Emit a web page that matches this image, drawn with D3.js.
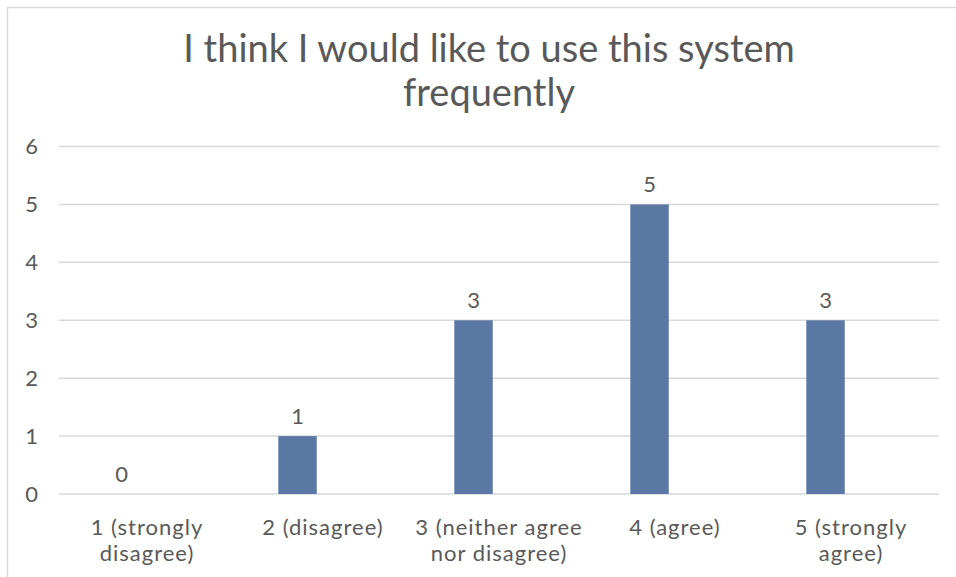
<!DOCTYPE html>
<html>
<head>
<meta charset="utf-8">
<script src="https://cdn.jsdelivr.net/npm/d3@7"></script>
<style>
  html, body { margin: 0; padding: 0; background: #fff; }
  svg { display: block; }
  text { font-family: Lato, "Open Sans", sans-serif; fill: #595959; }
</style>
</head>
<body>
<svg id="chart" width="956" height="577"></svg>
<script>
// Survey item and response counts
const titleLines = ["I think I would like to use this system", "frequently"];
const categories = ["1 (strongly disagree)", "2 (disagree)", "3 (neither agree nor disagree)", "4 (agree)", "5 (strongly agree)"];
const categoryLines = [["1 (strongly", "disagree)"], ["2 (disagree)"], ["3 (neither agree", "nor disagree)"], ["4 (agree)"], ["5 (strongly", "agree)"]];
const seriesNames = ["Responses", "Blank"];
const responses = [0, 1, 3, 5, 3];
const yTicks = [0, 1, 2, 3, 4, 5, 6];

const W = 956, H = 577;
const margin = { left: 59, right: 17, top: 146.5, bottom: 83 };

const svg = d3.select("#chart");

// chart frame
svg.append("rect")
  .attr("x", 7.5).attr("y", 7.5)
  .attr("width", W + 20).attr("height", H + 20)
  .attr("fill", "#fff").attr("stroke", "#d9d9d9").attr("stroke-width", 1.5);

const x = d3.scaleBand().domain(categories).range([margin.left, W - margin.right]);
const y = d3.scaleLinear().domain([0, 6]).range([H - margin.bottom, margin.top]);

// clustered layout: first slot holds the responses, second slot is empty
const groupW = x.bandwidth() * 0.508;
const xSub = d3.scaleBand().domain(seriesNames).range([0, groupW]).paddingInner(0.245);

// gridlines
svg.append("g")
  .selectAll("line").data(yTicks).join("line")
  .attr("x1", margin.left).attr("x2", W - margin.right)
  .attr("y1", d => y(d)).attr("y2", d => y(d))
  .attr("stroke", "#d9d9d9").attr("stroke-width", 1.5);

// y axis labels
const yAxis = d3.axisLeft(y).tickValues(yTicks).tickSize(0).tickPadding(0).tickFormat(d3.format("d"));
const yg = svg.append("g").attr("transform", `translate(${margin.left - 21},0)`).call(yAxis);
yg.select(".domain").remove();
yg.selectAll("text").attr("font-size", 22).attr("fill", "#595959")
  .style("font-family", "Lato, 'Open Sans', sans-serif");

// bars
const barX = (c) => x(c) + (x.bandwidth() - groupW) / 2 + xSub("Responses");
svg.append("g")
  .selectAll("rect").data(responses).join("rect")
  .attr("x", (d, i) => barX(categories[i]))
  .attr("width", xSub.bandwidth())
  .attr("y", d => y(d))
  .attr("height", d => y(0) - y(d))
  .attr("fill", "#5b78a5");

// value labels
svg.append("g")
  .selectAll("text").data(responses).join("text")
  .attr("x", (d, i) => barX(categories[i]) + xSub.bandwidth() / 2)
  .attr("y", d => y(d) - 12)
  .attr("text-anchor", "middle")
  .attr("font-size", 22)
  .text(d => d);

// category labels
const cg = svg.append("g");
categories.forEach((c, i) => {
  const cx = x(c) + x.bandwidth() / 2;
  const t = cg.append("text")
    .attr("x", cx)
    .attr("y", 535)
    .attr("text-anchor", "middle")
    .attr("font-size", 22)
    .attr("letter-spacing", 1);
  categoryLines[i].forEach((ln, j) => {
    t.append("tspan").attr("x", cx).attr("dy", j === 0 ? 0 : 26).text(ln);
  });
});

// title
svg.append("g")
  .selectAll("text").data(titleLines).join("text")
  .attr("x", 489).attr("y", (d, i) => 62 + i * 44)
  .attr("text-anchor", "middle")
  .attr("font-size", 38)
  .text(d => d);
</script>
</body>
</html>
